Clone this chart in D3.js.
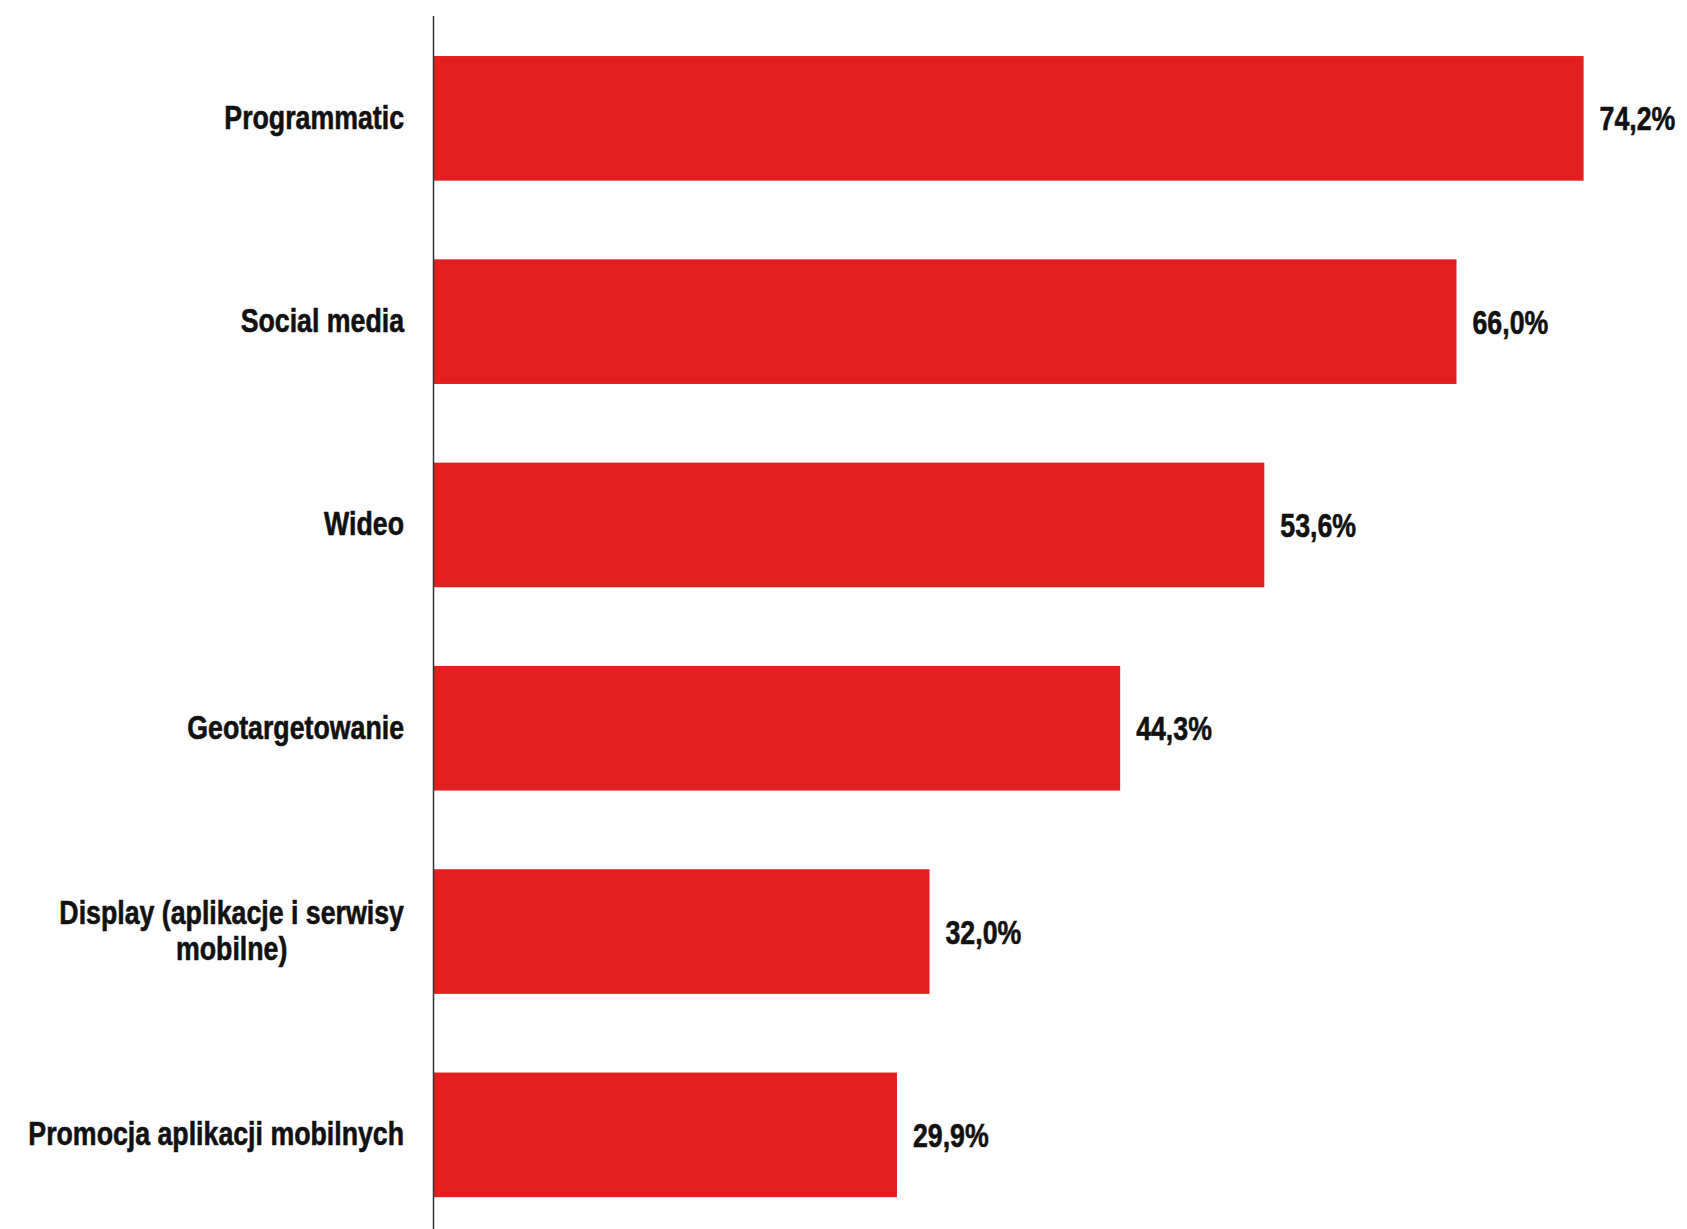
<!DOCTYPE html>
<html>
<head>
<meta charset="utf-8">
<script src="https://cdn.jsdelivr.net/npm/d3@7"></script>
<style>
  html, body { margin: 0; padding: 0; background: #fff; }
  svg { display: block; }
  text { font-family: "Liberation Sans", Arial, sans-serif; font-weight: bold; fill: #111; stroke: #111; stroke-width: 0.6; }
</style>
</head>
<body>
<svg id="chart" width="1687" height="1229"></svg>
<script>
// Share of respondents by mobile advertising format (%)
const categories = [
  "Programmatic",
  "Social media",
  "Wideo",
  "Geotargetowanie",
  "Display (aplikacje i serwisy mobilne)",
  "Promocja aplikacji mobilnych"
];
const values = [74.2, 66.0, 53.6, 44.3, 32.0, 29.9];
// Line breaks for long category names
const labelLines = {
  "Display (aplikacje i serwisy mobilne)": ["Display (aplikacje i serwisy", "mobilne)"]
};
const fmt = v => d3.format(".1f")(v).replace(".", ",") + "%";

const W = 1687, H = 1229;
const axisX = 433.5;
const labelRight = 404;
const fontSize = 33;
const squeeze = 0.81;   // horizontal condensing of the label typeface

const svg = d3.select("#chart");

const x = d3.scaleLinear().domain([0, 80]).range([axisX, axisX + 80 * 15.5]);
const y = d3.scaleBand()
  .domain(categories)
  .range([16.7, 16.7 + 6 * 203.3])
  .paddingInner(0.387)
  .paddingOuter(0.1935);

const data = categories.map((c, i) => ({ cat: c, val: values[i] }));

// Bars
svg.append("g").selectAll("rect")
  .data(data)
  .join("rect")
  .attr("x", x(0))
  .attr("y", d => y(d.cat))
  .attr("width", d => x(d.val) - x(0))
  .attr("height", y.bandwidth())
  .attr("fill", "#e01f1e");

// Vertical axis line
svg.append("line")
  .attr("x1", axisX).attr("x2", axisX)
  .attr("y1", 16).attr("y2", H)
  .attr("stroke", "#333")
  .attr("stroke-width", 1.5);

// Value labels
svg.append("g").selectAll("text")
  .data(data)
  .join("text")
  .attr("transform", d => `translate(${x(d.val) + 16},${y(d.cat) + y.bandwidth() / 2 + 12}) scale(${squeeze},1)`)
  .attr("font-size", fontSize)
  .text(d => fmt(d.val));

// Category labels
const catG = svg.append("g");
data.forEach(d => {
  const lines = labelLines[d.cat] || [d.cat];
  const base = y(d.cat) + y.bandwidth() / 2 + 10.5;
  if (lines.length === 1) {
    catG.append("text")
      .attr("transform", `translate(${labelRight},${base}) scale(${squeeze},1)`)
      .attr("text-anchor", "end")
      .attr("font-size", fontSize)
      .text(lines[0]);
  } else {
    const lh = 36.6;
    const t = catG.append("text")
      .attr("text-anchor", "middle")
      .attr("font-size", fontSize);
    lines.forEach((l, i) => {
      t.append("tspan")
        .attr("x", 0)
        .attr("y", (i - (lines.length - 1) / 2) * lh)
        .text(l);
    });
    const widest = d3.max(t.selectAll("tspan").nodes(), n => n.getComputedTextLength()) * squeeze;
    t.attr("transform", `translate(${labelRight - widest / 2},${base}) scale(${squeeze},1)`);
  }
});
</script>
</body>
</html>
